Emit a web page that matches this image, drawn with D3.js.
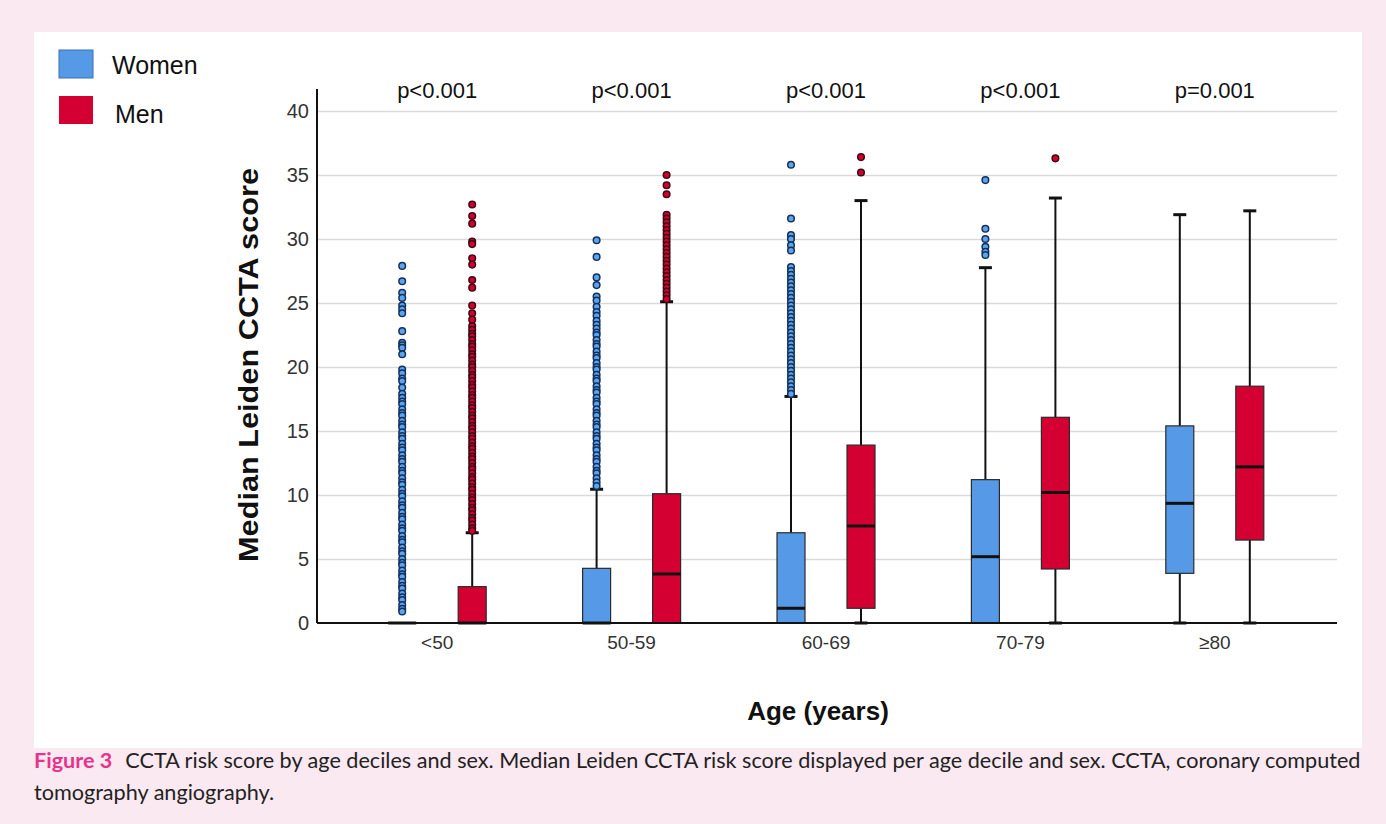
<!DOCTYPE html>
<html>
<head>
<meta charset="utf-8">
<script src="https://cdn.jsdelivr.net/npm/d3@7"></script>
<style>
  html, body { margin: 0; padding: 0; background: #fbe9f1; }
  svg { display: block; }
</style>
</head>
<body>
<svg id="chart" width="1386" height="824"></svg>
<script>
// ---------------- DATA ----------------
const groups = ["<50", "50-59", "60-69", "70-79", "≥80"];
const sexes = ["Women", "Men"];
const pLabels = ["p<0.001", "p<0.001", "p<0.001", "p<0.001", "p=0.001"];
const yTicks = [0, 5, 10, 15, 20, 25, 30, 35, 40];

const womenQ1 = [0, 0, 0, 0, 3.88];
const womenMedian = [0, 0, 1.15, 5.18, 9.35];
const womenQ3 = [0, 4.27, 7.05, 11.2, 15.4];
const womenWhiskerLow = [0, 0, 0, 0, 0];
const womenWhiskerHigh = [0, 10.45, 17.7, 27.76, 31.9];

const menQ1 = [0, 0, 1.15, 4.22, 6.48];
const menMedian = [0, 3.83, 7.58, 10.2, 12.2];
const menQ3 = [2.84, 10.1, 13.9, 16.07, 18.5];
const menWhiskerLow = [0, 0, 0, 0, 0];
const menWhiskerHigh = [7.05, 25.1, 33.0, 33.2, 32.2];

const womenOutliers50 = [27.9, 26.7, 25.8, 25.4, 24.8, 24.5, 24.2, 22.8, 21.9, 21.7, 21.5, 21.0,
  19.8, 19.5, 19.1, 18.9, 18.4, 17.9, 17.6, 17.3, 17.1, 16.7, 16.4, 16.2, 15.8, 15.5, 15.3,
  14.9, 14.6, 14.4, 14.0, 13.7, 13.5, 13.1, 12.8, 12.6, 12.2, 11.9, 11.7, 11.3, 11.0, 10.8,
  10.4, 10.1, 9.9, 9.5, 9.2, 9.0, 8.6, 8.3, 8.1, 7.7, 7.4, 7.2, 6.8, 6.5, 6.3, 5.9, 5.6, 5.4,
  5.0, 4.7, 4.5, 4.1, 3.8, 3.6, 3.2, 2.9, 2.7, 2.3, 2.0, 1.8, 1.4, 1.1, 0.9];
const menOutliers50 = [32.7, 31.8, 31.2, 29.8, 29.6, 28.5, 28.0, 26.8, 26.2, 24.8, 24.2, 23.7,
  23.2, 22.9, 22.6, 22.4, 22.1, 21.8, 21.6, 21.3, 21.0, 20.8, 20.5, 20.2, 20.0, 19.7, 19.4,
  19.2, 18.9, 18.6, 18.4, 18.1, 17.8, 17.6, 17.3, 17.0, 16.8, 16.5, 16.2, 16.0, 15.7, 15.4,
  15.2, 14.9, 14.6, 14.4, 14.1, 13.8, 13.6, 13.3, 13.0, 12.8, 12.5, 12.2, 12.0, 11.7, 11.4,
  11.2, 10.9, 10.6, 10.4, 10.1, 9.8, 9.6, 9.3, 9.0, 8.8, 8.5, 8.2, 8.0, 7.7, 7.4, 7.2];
const womenOutliers5059 = [29.9, 28.6, 27.0, 26.4, 25.5, 25.2, 24.7, 24.3, 24.0, 23.6, 23.3,
  23.0, 22.7, 22.5, 22.1, 21.8, 21.6, 21.2, 20.9, 20.7, 20.3, 20.0, 19.8, 19.4, 19.1, 18.9,
  18.5, 18.2, 18.0, 17.6, 17.3, 17.1, 16.7, 16.4, 16.2, 15.8, 15.5, 15.3, 14.9, 14.6, 14.4,
  14.0, 13.7, 13.5, 13.1, 12.8, 12.6, 12.2, 11.9, 11.7, 11.3, 11.0, 10.7];
const menOutliers5059 = [35.0, 34.2, 33.5, 31.9, 31.6, 31.3, 31.0, 30.7, 30.4, 30.1, 29.8, 29.5,
  29.2, 28.9, 28.6, 28.3, 28.0, 27.7, 27.4, 27.1, 26.8, 26.5, 26.2, 25.9, 25.6, 25.3];
const womenOutliers6069 = [35.8, 31.6, 30.3, 30.0, 29.5, 29.1, 27.8, 27.5, 27.2, 26.9, 26.6,
  26.3, 26.0, 25.7, 25.4, 25.1, 24.8, 24.5, 24.2, 23.9, 23.6, 23.3, 23.0, 22.7, 22.4, 22.1,
  21.8, 21.5, 21.2, 20.9, 20.6, 20.3, 20.0, 19.7, 19.4, 19.1, 18.8, 18.5, 18.2, 17.9];
const menOutliers6069 = [36.4, 35.2];
const womenOutliers7079 = [34.6, 30.8, 30.0, 29.4, 29.0, 28.75];
const menOutliers7079 = [36.3];
const womenOutliers80 = [];
const menOutliers80 = [];

const womenOutliers = [womenOutliers50, womenOutliers5059, womenOutliers6069, womenOutliers7079, womenOutliers80];
const menOutliers = [menOutliers50, menOutliers5059, menOutliers6069, menOutliers7079, menOutliers80];

// ---------------- BUILD ----------------
const stats = [];
groups.forEach((g, i) => {
  stats.push({group: g, sex: "Women", q1: womenQ1[i], med: womenMedian[i], q3: womenQ3[i],
    lo: womenWhiskerLow[i], hi: womenWhiskerHigh[i], out: womenOutliers[i]});
  stats.push({group: g, sex: "Men", q1: menQ1[i], med: menMedian[i], q3: menQ3[i],
    lo: menWhiskerLow[i], hi: menWhiskerHigh[i], out: menOutliers[i]});
});

const fill = {Women: "#5699e6", Men: "#d50032"};
const ptFill = {Women: "#5aa6ee", Men: "#d3002e"};
const ptStroke = {Women: "#16305c", Men: "#3f0a14"};

const svg = d3.select("#chart");
const FONT = "'Liberation Sans', Arial, sans-serif";

// white panel
svg.append("rect").attr("x", 34).attr("y", 32).attr("width", 1328).attr("height", 716).attr("fill", "#ffffff");

const plotLeft = 317, plotRight = 1337;
const x = d3.scaleBand().domain(groups).range([340, 1312]);
const xs = d3.scaleBand().domain(sexes).range([-70, 70]);
const y = d3.scaleLinear().domain([0, 40]).range([623, 111]);
const boxW = 28;

// gridlines
const grid = svg.append("g").attr("transform", `translate(${plotLeft},0)`)
  .call(d3.axisLeft(y).tickValues(yTicks.filter(d => d > 0)).tickSize(-(plotRight - plotLeft)).tickFormat(""));
grid.select(".domain").remove();
grid.selectAll("line").attr("stroke", "#d9d9d9").attr("stroke-width", 1.6);

// y axis labels
const yAx = svg.append("g").attr("transform", `translate(${plotLeft},0)`)
  .call(d3.axisLeft(y).tickValues(yTicks).tickSize(0).tickPadding(8));
yAx.select(".domain").remove();
yAx.selectAll("text").attr("font-family", FONT).attr("font-size", 20).attr("fill", "#333");

// x axis labels
const xAx = svg.append("g").attr("transform", `translate(0,${y(0)})`)
  .call(d3.axisBottom(x).tickSize(0).tickPadding(13));
xAx.select(".domain").remove();
xAx.selectAll("text").attr("font-family", FONT).attr("font-size", 19).attr("fill", "#333");

// boxes
const cx = d => x(d.group) + x.bandwidth() / 2 + xs(d.sex) + xs.bandwidth() / 2;
const g = svg.append("g");
const items = g.selectAll("g.box").data(stats).enter().append("g").attr("class", "box");

// whiskers
items.filter(d => d.hi > d.q3).append("line")
  .attr("x1", cx).attr("x2", cx).attr("y1", d => y(d.q3)).attr("y2", d => y(d.hi))
  .attr("stroke", "#111").attr("stroke-width", 2);
items.filter(d => d.q1 > d.lo).append("line")
  .attr("x1", cx).attr("x2", cx).attr("y1", d => y(d.q1)).attr("y2", d => y(d.lo))
  .attr("stroke", "#111").attr("stroke-width", 2);
items.filter(d => d.hi > d.q3).append("line")
  .attr("x1", d => cx(d) - 6.5).attr("x2", d => cx(d) + 6.5).attr("y1", d => y(d.hi)).attr("y2", d => y(d.hi))
  .attr("stroke", "#111").attr("stroke-width", 3);
items.filter(d => d.q1 > d.lo).append("line")
  .attr("x1", d => cx(d) - 6.5).attr("x2", d => cx(d) + 6.5).attr("y1", d => y(d.lo)).attr("y2", d => y(d.lo))
  .attr("stroke", "#111").attr("stroke-width", 3);

// box rect
items.filter(d => d.q3 > d.q1).append("rect")
  .attr("x", d => cx(d) - boxW / 2).attr("width", boxW)
  .attr("y", d => y(d.q3)).attr("height", d => y(d.q1) - y(d.q3))
  .attr("fill", d => fill[d.sex]).attr("stroke", "#2b2b2b").attr("stroke-width", 1.2);

// median
items.append("line")
  .attr("x1", d => cx(d) - boxW / 2).attr("x2", d => cx(d) + boxW / 2)
  .attr("y1", d => y(d.med)).attr("y2", d => y(d.med))
  .attr("stroke", "#111").attr("stroke-width", 3);

// outliers
items.each(function(d) {
  d3.select(this).selectAll("circle").data(d.out).enter().append("circle")
    .attr("cx", cx(d)).attr("cy", v => y(v)).attr("r", 3.3)
    .attr("fill", ptFill[d.sex]).attr("stroke", ptStroke[d.sex]).attr("stroke-width", 1.5);
});

// axis lines
svg.append("line").attr("x1", plotLeft).attr("x2", plotLeft).attr("y1", 89).attr("y2", y(0))
  .attr("stroke", "#111").attr("stroke-width", 2);
svg.append("line").attr("x1", plotLeft).attr("x2", plotRight).attr("y1", y(0)).attr("y2", y(0))
  .attr("stroke", "#111").attr("stroke-width", 2);

// p-values
svg.append("g").selectAll("text").data(groups).enter().append("text")
  .attr("x", d => x(d) + x.bandwidth() / 2).attr("y", 98)
  .attr("text-anchor", "middle").attr("font-family", FONT).attr("font-size", 22).attr("fill", "#111")
  .text((d, i) => pLabels[i]);

// axis titles
svg.append("text").attr("x", 818).attr("y", 720).attr("text-anchor", "middle")
  .attr("font-family", FONT).attr("font-size", 26).attr("font-weight", "bold").attr("fill", "#111")
  .text("Age (years)");
svg.append("text").attr("transform", "translate(258,365) rotate(-90)").attr("text-anchor", "middle")
  .attr("font-family", FONT).attr("font-size", 27).attr("font-weight", "bold").attr("fill", "#111")
  .attr("textLength", 394).attr("lengthAdjust", "spacingAndGlyphs")
  .text("Median Leiden CCTA score");

// legend
const leg = svg.append("g").selectAll("g").data(sexes).enter().append("g");
leg.append("rect").attr("x", 59).attr("y", (d, i) => 50 + i * 46).attr("width", 34).attr("height", 28)
  .attr("fill", d => fill[d]).attr("stroke", d => d === "Women" ? "#3a6fb5" : "none").attr("stroke-width", 1);
leg.append("text").attr("x", (d, i) => i === 0 ? 112 : 115).attr("y", (d, i) => 74 + i * 49)
  .attr("font-family", FONT).attr("font-size", 25).attr("fill", "#111").text(d => d);

// caption
const CAPFONT = "Lato, 'Open Sans', sans-serif";
const capText1 = "CCTA risk score by age deciles and sex. Median Leiden CCTA risk score displayed per age decile and sex. CCTA, coronary computed";
const cap1 = svg.append("text").attr("x", 34).attr("y", 768).attr("font-family", CAPFONT).attr("font-size", 20).attr("fill", "#222");
cap1.append("tspan").attr("font-weight", "bold").attr("fill", "#e8338b").text("Figure 3");
cap1.append("tspan").attr("dx", 12).text(capText1);
const w1 = cap1.node().getComputedTextLength() + 12;
const target = 1361 - 34;
const capSize = Math.min(23, 20 * target / w1);
cap1.attr("font-size", capSize);
cap1.select("tspan:nth-child(2)").attr("dx", 12 * capSize / 20);
svg.append("text").attr("x", 34).attr("y", 800).attr("font-family", CAPFONT).attr("font-size", capSize).attr("fill", "#222")
  .text("tomography angiography.");
</script>
</body>
</html>
